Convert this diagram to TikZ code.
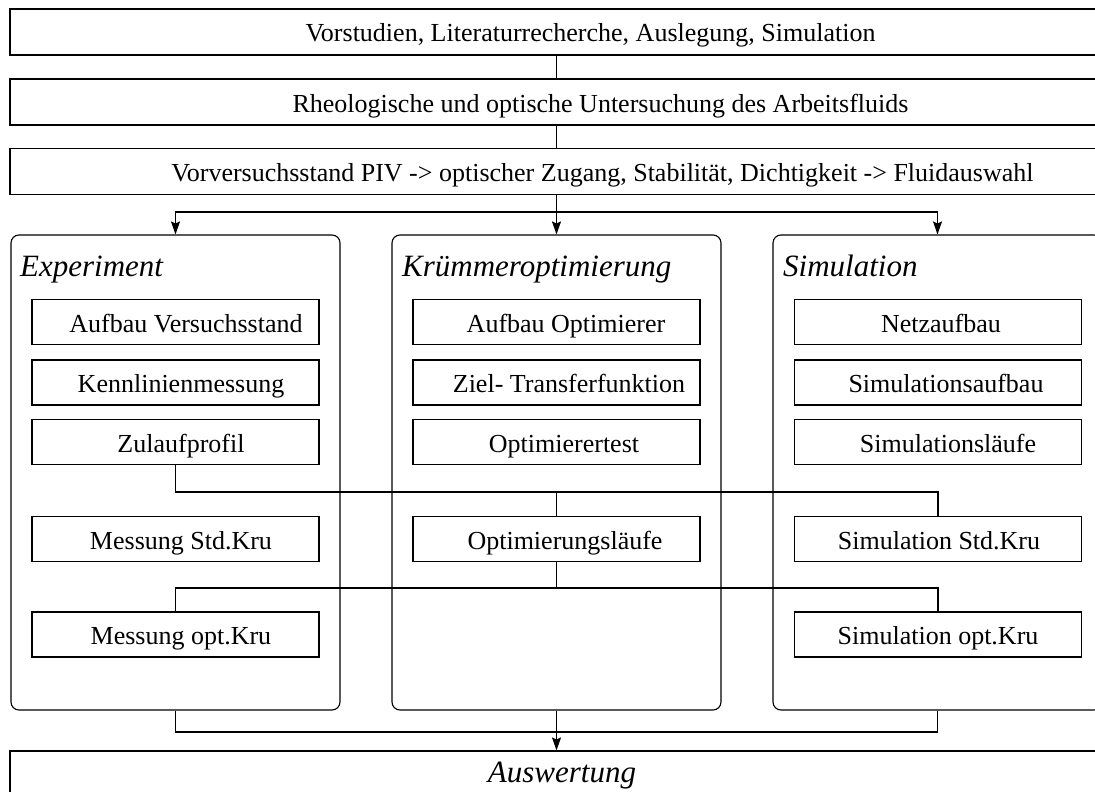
\documentclass[tikz,border=0pt]{standalone}
\usepackage{fontspec}
\setmainfont{Liberation Serif}
\usetikzlibrary{arrows.meta}
\newcommand\tsh[1]{\hspace*{#1pt}}
\tikzset{
  every node/.style={font=\fontsize{26}{30}\selectfont},
  txt/.style={text height=22pt, text depth=2pt},
  wide/.style={draw, txt, line width=1.1pt, minimum width=1093pt, minimum height=46pt, inner sep=0pt},
  panel/.style={draw, line width=1.1pt, rounded corners=8pt, minimum width=329pt, minimum height=475pt, inner sep=0pt},
  task/.style={draw, txt, line width=1.1pt, minimum width=287pt, minimum height=45pt, inner sep=0pt},
  title/.style={font=\fontsize{31}{36}\selectfont\itshape, anchor=base west, inner sep=0pt},
  conn/.style={line width=1.1pt},
  arr/.style={line width=1.1pt, -{Stealth[length=13pt, width=9pt, inset=2pt]}}
}
\begin{document}
\begin{tikzpicture}[x=1pt, y=-1pt]
\useasboundingbox (0,0) rectangle (1095,792);
\clip (0,0) rectangle (1095,792);
% top boxes
\node[wide] (b1) at (556.5,32) {\tsh{68}Vorstudien, Literaturrecherche, Auslegung, Simulation};
\node[wide] (b2) at (556.5,102) {\tsh{88}Rheologische und optische Untersuchung des Arbeitsfluids};
\node[wide] (b3) at (556.5,171.5) {\tsh{92}Vorversuchsstand PIV -> optischer Zugang, Stabilität, Dichtigkeit -> Fluidauswahl};
% panels
\node[panel] (exp) at (175.5,472.5) {};
\node[panel] (krum) at (556.5,472.5) {};
\node[panel] (sim) at (937.5,472.5) {};
\node[title] (texp) at (20,276) {Experiment};
\node[title] (tkrum) at (402,276) {Krümmeroptimierung};
\node[title] (tsim) at (783,276) {Simulation};
% experiment tasks
\node[task] (e1) at (175.5,322) {\tsh{21}Aufbau Versuchsstand};
\node[task] (e2) at (175.5,382.5) {\tsh{11}Kennlinienmessung};
\node[task] (e3) at (175.5,442) {\tsh{11}Zulaufprofil};
\node[task] (e4) at (175.5,539) {\tsh{11}Messung Std.Kru};
\node[task] (e5) at (175.5,634.5) {\tsh{11}Messung opt.Kru};
% kruemmer tasks
\node[task] (k1) at (556.5,322) {\tsh{19}Aufbau Optimierer};
\node[task] (k2) at (556.5,382.5) {\tsh{25}Ziel- Transferfunktion};
\node[task] (k3) at (556.5,442) {\tsh{15}Optimierertest};
\node[task] (k4) at (556.5,539) {\tsh{17}Optimierungsläufe};
% simulation tasks
\node[task] (s1) at (938,322) {\tsh{6}Netzaufbau};
\node[task] (s2) at (938,382.5) {\tsh{16}Simulationsaufbau};
\node[task] (s3) at (938,442) {\tsh{20}Simulationsläufe};
\node[task] (s4) at (938,539) {\tsh{2}Simulation Std.Kru};
\node[task] (s5) at (938,634.5) {Simulation opt.Kru};
% bottom box
\node[wide] (aus) at (556.5,774) {};
\node[font=\fontsize{31}{36}\selectfont\itshape, anchor=base, inner sep=0pt] (taus) at (562,782) {Auswertung};
% connectors
\draw[conn] (b1.south) -- (b2.north);
\draw[conn] (b2.south) -- (b3.north);
\coordinate (split) at (556.5,212);
\draw[conn] (b3.south) -- (split);
\draw[arr] (split) -| (exp.north);
\draw[arr] (split) -- (krum.north);
\draw[arr] (split) -| (sim.north);
\coordinate (z) at (175.5,492);
\draw[conn] (e3.south) -- (z) -| (k4.north);
\draw[conn] (z) -| (s4.north);
\coordinate (o) at (556.5,588);
\draw[conn] (k4.south) -- (o) -| (e5.north);
\draw[conn] (o) -| (s5.north);
\coordinate (j) at (556.5,732);
\draw[conn] (exp.south) |- (j);
\draw[conn] (sim.south) |- (j);
\draw[arr] (krum.south) -- (aus.north);
\end{tikzpicture}
\end{document}
